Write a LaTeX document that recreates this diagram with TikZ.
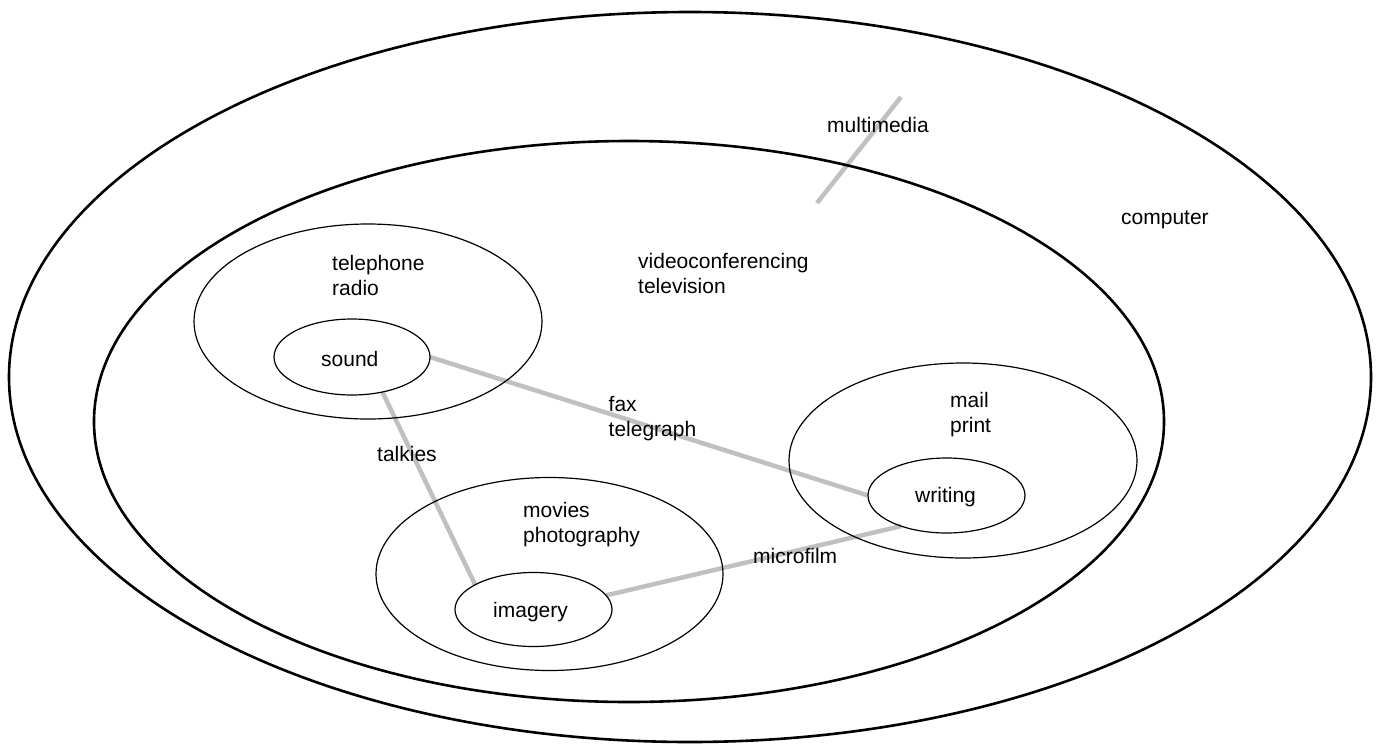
\documentclass[tikz,border=0pt]{standalone}
\usepackage{fontspec}
\setmainfont{Liberation Sans}
\usetikzlibrary{shapes.geometric,backgrounds}
\definecolor{linkgray}{RGB}{192,192,192}
\tikzset{
  bigring/.style={draw=black, line width=2.6pt, ellipse, inner sep=0pt, outer sep=0pt},
  ring/.style={draw=black, line width=1.2pt, ellipse, inner sep=0pt, outer sep=0pt},
  link/.style={draw=linkgray, line width=4.5pt},
  lbl/.style={anchor=base west, inner sep=0pt, align=left, font=\fontsize{21}{25}\selectfont}
}
\begin{document}
\begin{tikzpicture}[x=1pt,y=-1pt]
\useasboundingbox (0,0) rectangle (1377,745);
% containers
\node[bigring, minimum width=1362pt, minimum height=730pt] (computer) at (690,377) {};
\node[bigring, minimum width=1070pt, minimum height=561pt] (av) at (629,421.5) {};
% media groups
\node[ring, minimum width=348pt, minimum height=195pt] (tel) at (368,321.5) {};
\node[ring, minimum width=156pt, minimum height=76pt] (sound) at (352,357) {};
\node[ring, minimum width=348pt, minimum height=195pt] (mail) at (963,460.5) {};
\node[ring, minimum width=157pt, minimum height=75pt] (writing) at (946.5,495.5) {};
\node[ring, minimum width=347pt, minimum height=193pt] (movies) at (549.5,574) {};
\node[ring, minimum width=157pt, minimum height=74pt] (imagery) at (533.5,609.5) {};
\coordinate (mmA) at (901,97);
\coordinate (mmB) at (817,203);
% connectors
\begin{pgfonlayer}{background}
\draw[link] (sound.east) -- (writing.west);
\draw[link] (sound.-49) -- (imagery.157);
\draw[link] (imagery.11) -- (writing.214);
\draw[link] (mmA) -- (mmB);
\end{pgfonlayer}
% labels (base of multi-line labels = last line)
\node[lbl] (tmultimedia) at (827,132) {multimedia};
\node[lbl] (tcomputer) at (1121,224) {computer};
\node[lbl] (tvideo) at (638,293) {videoconferencing\\television};
\node[lbl] (ttel) at (332,295) {telephone\\radio};
\node[lbl] (tsound) at (321,366) {sound};
\node[lbl] (tfax) at (608.5,436) {fax\\telegraph};
\node[lbl] (tmail) at (950,432) {mail\\print};
\node[lbl] (twriting) at (915,502) {writing};
\node[lbl] (ttalkies) at (377,461) {talkies};
\node[lbl] (tmovies) at (523,542) {movies\\photography};
\node[lbl] (tmicrofilm) at (753,563) {microfilm};
\node[lbl] (timagery) at (493,617) {imagery};
\end{tikzpicture}
\end{document}
